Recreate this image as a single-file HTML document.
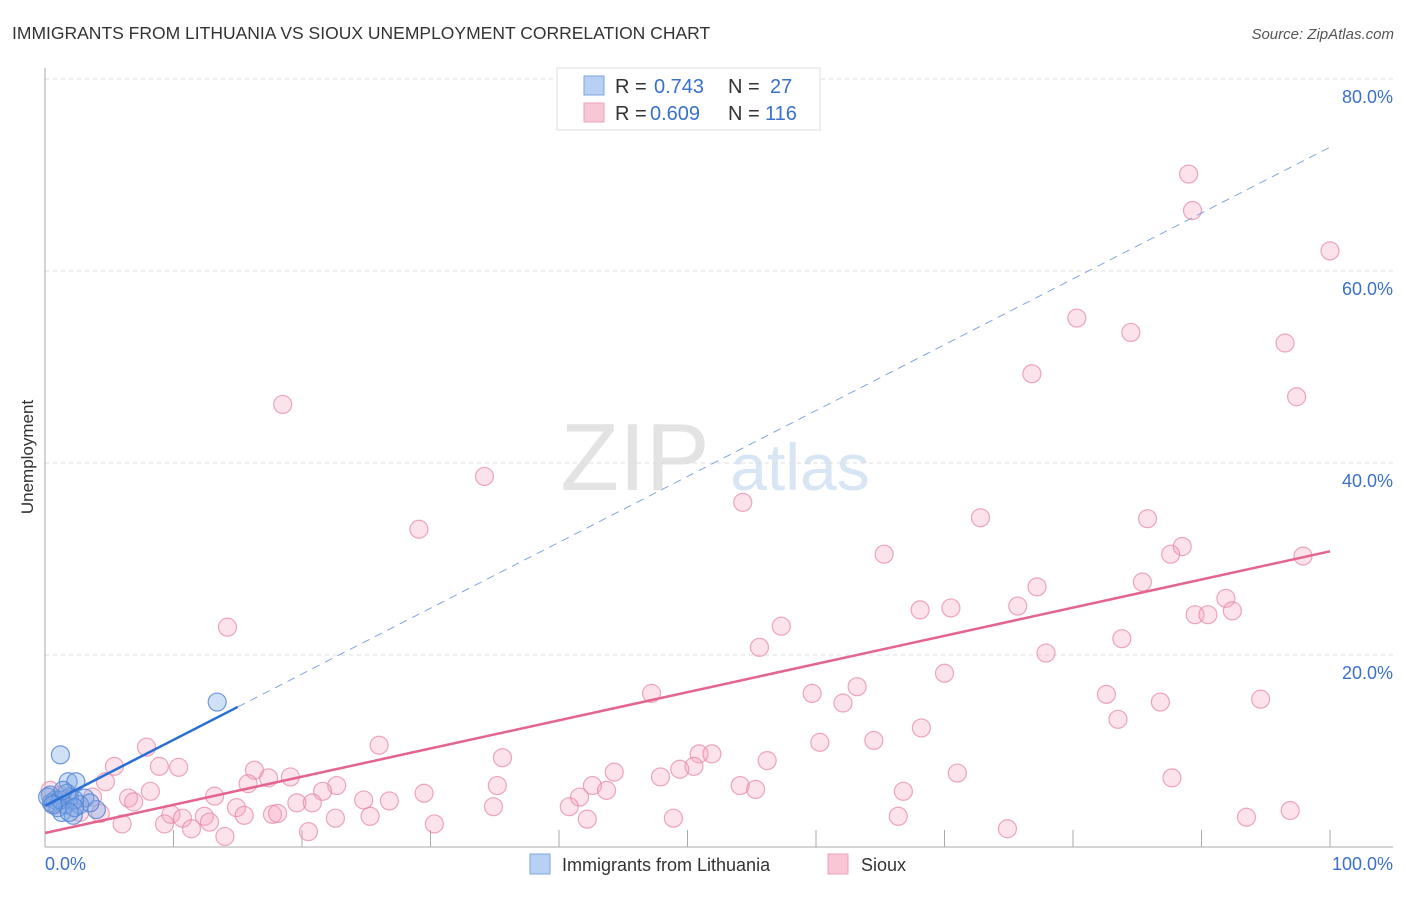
<!DOCTYPE html>
<html><head><meta charset="utf-8"><style>
body{margin:0;background:#fff;font-family:"Liberation Sans",sans-serif;}
svg text{font-family:"Liberation Sans",sans-serif;}
</style></head><body>
<svg id="chart" width="1406" height="892" xmlns="http://www.w3.org/2000/svg">
<text x="12" y="39" font-size="17.5" fill="#333">IMMIGRANTS FROM LITHUANIA VS SIOUX UNEMPLOYMENT CORRELATION CHART</text>
<text x="1394" y="39" font-size="15" fill="#555" text-anchor="end" font-style="italic">Source: ZipAtlas.com</text>
<g>
<text x="635" y="490" font-size="96" fill="#e3e3e3" text-anchor="middle" font-family="Liberation Serif,serif">ZIP</text>
<text x="800" y="490" font-size="66" fill="#d7e5f5" text-anchor="middle">atlas</text>
</g>
<g id="grid"></g>
<g id="axes"></g>
<g id="pts"></g>
<g id="lines"></g>
<text transform="translate(33,457) rotate(-90)" font-size="17" fill="#333" text-anchor="middle">Unemployment</text>
<g>
<rect x="557" y="68" width="263" height="62" fill="#fff" stroke="#ddd"/>
<rect x="584" y="76" width="20" height="19" fill="#b7d0f4" stroke="#7ea6e0"/>
<rect x="584" y="103" width="20" height="19" fill="#f9c6d6" stroke="#eea0bb"/>
<text x="615" y="93" font-size="20" fill="#333">R = </text><text x="654" y="93" font-size="20" fill="#3a70cc">0.743</text>
<text x="728" y="93" font-size="20" fill="#333">N = </text><text x="770" y="93" font-size="20" fill="#3a70cc">27</text>
<text x="615" y="120" font-size="20" fill="#333">R = </text><text x="650" y="120" font-size="20" fill="#3a70cc">0.609</text>
<text x="728" y="120" font-size="20" fill="#333">N = </text><text x="765" y="120" font-size="20" fill="#3a70cc">116</text>
</g>
<g>
<rect x="530" y="854" width="20" height="20" fill="#b7d0f4" stroke="#7ea6e0"/>
<text x="562" y="871" font-size="18" fill="#333">Immigrants from Lithuania</text>
<rect x="828" y="854" width="20" height="20" fill="#f9c6d6" stroke="#eea0bb"/>
<text x="861" y="871" font-size="18" fill="#333">Sioux</text>
</g>
</svg>
<script>
const yTicks=[20,40,60,80];
const yTickLabels=["20.0%","40.0%","60.0%","80.0%"];
const xTickVals=[10,20,30,40,50,60,70,80,90,100];
const blueX=[13.4,1.2,1.8,2.4,1.9,4.0,0.8,0.4,1.3,2.2,3.1,1.6,0.5,1.0,2.7,3.5,1.7,2.3,1.2,0.2,1.4,2.3,1.9,0.6];
const blueY=[15.1,9.6,6.8,6.8,5.2,3.9,4.9,5.4,3.6,3.3,5.1,4.4,4.6,4.1,4.4,4.6,5.6,4.9,4.9,5.2,5.9,4.1,3.6,4.4];
const pinkX=[89.0,89.3,100,80.3,84.5,96.5,76.8,97.4,18.5,34.2,54.3,72.8,85.8,29.1,88.5,65.3,87.6,97.9,77.2,85.4,91.9,75.7,68.1,70.5,89.5,90.5,92.4,14.2,57.3,55.6,83.8,77.9,70.0,63.2,47.2,59.7,82.6,62.1,86.8,94.6,83.5,68.2,7.9,26.0,60.3,64.5,5.4,8.9,10.4,35.6,50.9,51.9,50.5,56.2,16.3,19.1,17.4,47.9,49.4,44.3,71.0,87.7,4.7,22.7,35.2,15.8,21.6,42.6,54.1,55.3,66.8,8.2,6.5,6.9,13.2,19.6,20.8,24.8,26.8,29.5,41.6,43.7,14.9,15.5,17.7,18.1,34.9,40.8,9.8,10.7,12.4,12.8,22.6,25.3,48.9,66.4,93.5,96.9,6.0,9.3,11.4,14.0,20.5,30.3,42.2,74.9,4.3,2.7,3.7,1.2,1.9,0.4,0.8];
const pinkY=[70.1,66.3,62.1,55.1,53.6,52.5,49.3,46.9,46.1,38.6,35.9,34.3,34.2,33.1,31.3,30.5,30.5,30.3,27.1,27.6,25.9,25.1,24.7,24.9,24.2,24.2,24.6,22.9,23.0,20.8,21.7,20.2,18.1,16.7,16.0,16.0,15.9,15.0,15.1,15.4,13.3,12.4,10.4,10.6,10.9,11.1,8.4,8.4,8.3,9.3,9.7,9.7,8.4,9.0,8.0,7.3,7.2,7.3,8.1,7.8,7.7,7.2,6.8,6.4,6.4,6.6,5.8,6.4,6.4,6.0,5.8,5.8,5.1,4.7,5.3,4.6,4.6,4.9,4.8,5.6,5.2,5.9,4.1,3.3,3.4,3.5,4.2,4.2,3.4,3.0,3.2,2.6,3.0,3.2,3.0,3.2,3.1,3.8,2.4,2.4,1.9,1.1,1.6,2.4,2.9,1.9,3.5,3.6,5.2,5.4,4.9,5.9,4.4];
const blueFit=[4.3,72.9]; const blueSolidEnd=15;
const pinkFit=[1.46,30.8];

const NS="http://www.w3.org/2000/svg";
const X=v=>45+v*12.85, Y=v=>847-v*9.6;
function mk(tag,attrs,parent){const e=document.createElementNS(NS,tag);for(const k in attrs)e.setAttribute(k,attrs[k]);document.getElementById(parent).appendChild(e);return e;}
yTicks.forEach((t,i)=>{
 const g=mk('line',{x1:45,x2:1393,y1:Y(t),y2:Y(t),stroke:'#ddd','stroke-dasharray':'4,4'},'grid');
 
 
 const l=mk('text',{x:1393,y:Y(t)+24,'font-size':18,fill:'#3a70cc','text-anchor':'end'},'axes');
 l.textContent=yTickLabels[i];
 
 
});
const ya=mk('line',{x1:45,x2:45,y1:68,y2:847,stroke:'#aaa'},'axes');


const xa=mk('line',{x1:45,x2:1393,y1:847,y2:847,stroke:'#aaa'},'axes');


xTickVals.forEach(t=>{
 const tk=mk('line',{x1:X(t),x2:X(t),y1:830,y2:847,stroke:'#aaa'},'axes');
 
 
});
const x0=mk('text',{x:45,y:870,'font-size':18,fill:'#3a70cc'},'axes');x0.textContent='0.0%';


const x1=mk('text',{x:1393,y:870,'font-size':18,fill:'#3a70cc','text-anchor':'end'},'axes');x1.textContent='100.0%';


pinkX.forEach((v,i)=>{
 const c=mk('circle',{cx:X(v),cy:Y(pinkY[i]),r:9,fill:'rgba(244,160,190,0.3)',stroke:'rgba(230,130,165,0.7)','stroke-width':1.2},'pts');
 
 
});
blueX.forEach((v,i)=>{
 const c=mk('circle',{cx:X(v),cy:Y(blueY[i]),r:9,fill:'rgba(120,165,230,0.35)',stroke:'rgba(80,130,210,0.8)','stroke-width':1.2},'pts');
 
 
});
const by=x=>blueFit[0]+(blueFit[1]-blueFit[0])*x/100;
const bs=mk('line',{x1:X(0),y1:Y(by(0)),x2:X(blueSolidEnd),y2:Y(by(blueSolidEnd)),stroke:'#2a6fd6','stroke-width':2.5},'lines');


const bd=mk('line',{x1:X(blueSolidEnd),y1:Y(by(blueSolidEnd)),x2:X(100),y2:Y(by(100)),stroke:'#7fa6e0','stroke-width':1,'stroke-dasharray':'8,6'},'lines');


const pl=mk('line',{x1:X(0),y1:Y(pinkFit[0]),x2:X(100),y2:Y(pinkFit[1]),stroke:'#e4638f','stroke-width':2.5},'lines');


</script>
</body></html>
